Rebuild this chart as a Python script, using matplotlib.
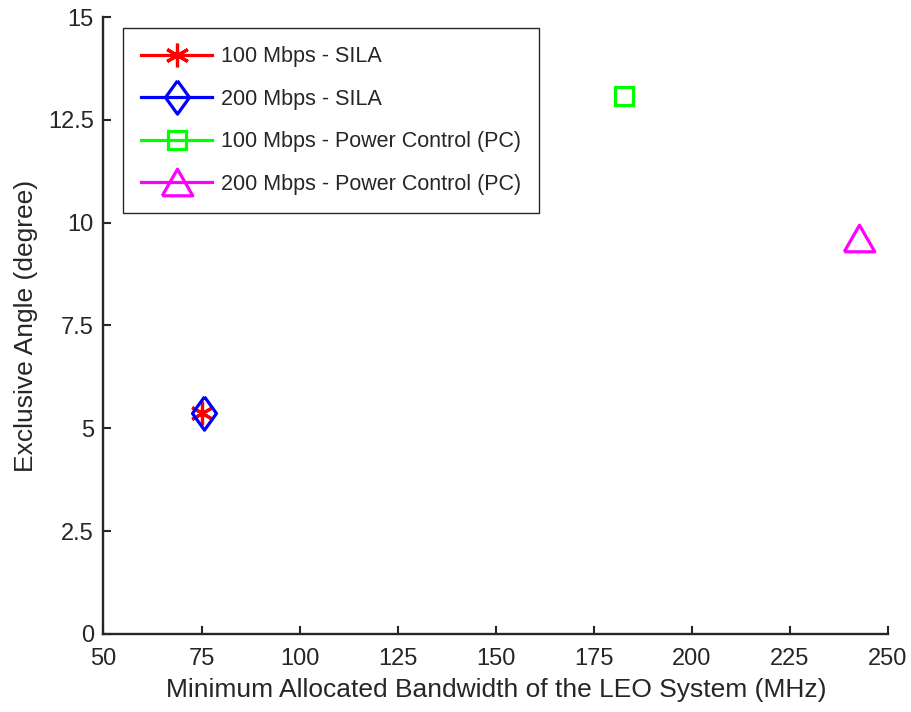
import matplotlib
matplotlib.use("Agg")
import matplotlib.pyplot as plt

plt.rcParams['font.family'] = ['Liberation Sans', 'DejaVu Sans']

# minimum allocated bandwidth (MHz) and exclusive angle (degree) per scheme
labels = ['100 Mbps - SILA', '200 Mbps - SILA',
          '100 Mbps - Power Control (PC)', '200 Mbps - Power Control (PC)']
bandwidth = [75.0, 75.5, 182.6, 242.5]
angle = [5.37, 5.37, 13.09, 9.63]

colors = ['#ff0000', '#0000ff', '#00ff00', '#ff00ff']
# matlab-like marker shapes
diamond = [(0, 1), (0.72, 0), (0, -1), (-0.72, 0), (0, 1)]
triangle = [(-1, -0.87), (1, -0.87), (0, 0.87), (-1, -0.87)]
markers = [(6, 2, 0), diamond, 's', triangle]
sizes = [17, 24, 13.5, 22]

ink = '#262626'

fig = plt.figure(figsize=(9.11, 7.12), dpi=100)
ax = fig.add_axes([0.1136, 0.1096, 0.8612, 0.8665])

for x, y, lab, c, m, s in zip(bandwidth, angle, labels, colors, markers, sizes):
    ax.plot([x], [y], '-', color=c, marker=m, markersize=s,
            markerfacecolor='none', markeredgecolor=c,
            markeredgewidth=2.3, linewidth=2.3, label=lab)

ax.set_xlim(50, 250)
ax.set_ylim(0, 15)
ax.set_xticks(range(50, 251, 25))
ax.set_yticks([0, 2.5, 5, 7.5, 10, 12.5, 15])
ax.set_yticklabels(['0', '2.5', '5', '7.5', '10', '12.5', '15'])

for side in ['top', 'right']:
    ax.spines[side].set_visible(False)
for side in ['left', 'bottom']:
    ax.spines[side].set_linewidth(1.7)
    ax.spines[side].set_color(ink)

ax.tick_params(direction='in', length=6, width=1.5, colors=ink,
               labelsize=17, labelcolor=ink)
ax.tick_params(axis='x', pad=10)
ax.tick_params(axis='y', pad=7)

ax.set_xlabel('Minimum Allocated Bandwidth of the LEO System (MHz)',
              fontsize=19, color=ink, labelpad=6)
ax.set_ylabel('Exclusive Angle (degree)', fontsize=19, color=ink, labelpad=7)

leg = ax.legend(loc='upper left', bbox_to_anchor=(0.0249, 0.982),
                borderaxespad=0, fontsize=15.5, handlelength=3.3,
                handletextpad=0.4, labelspacing=1.0, borderpad=0.85,
                fancybox=False, edgecolor=ink, framealpha=1)
leg.get_frame().set_linewidth(1.0)
for t in leg.get_texts():
    t.set_color(ink)

fig.savefig('out.png', dpi=100)
